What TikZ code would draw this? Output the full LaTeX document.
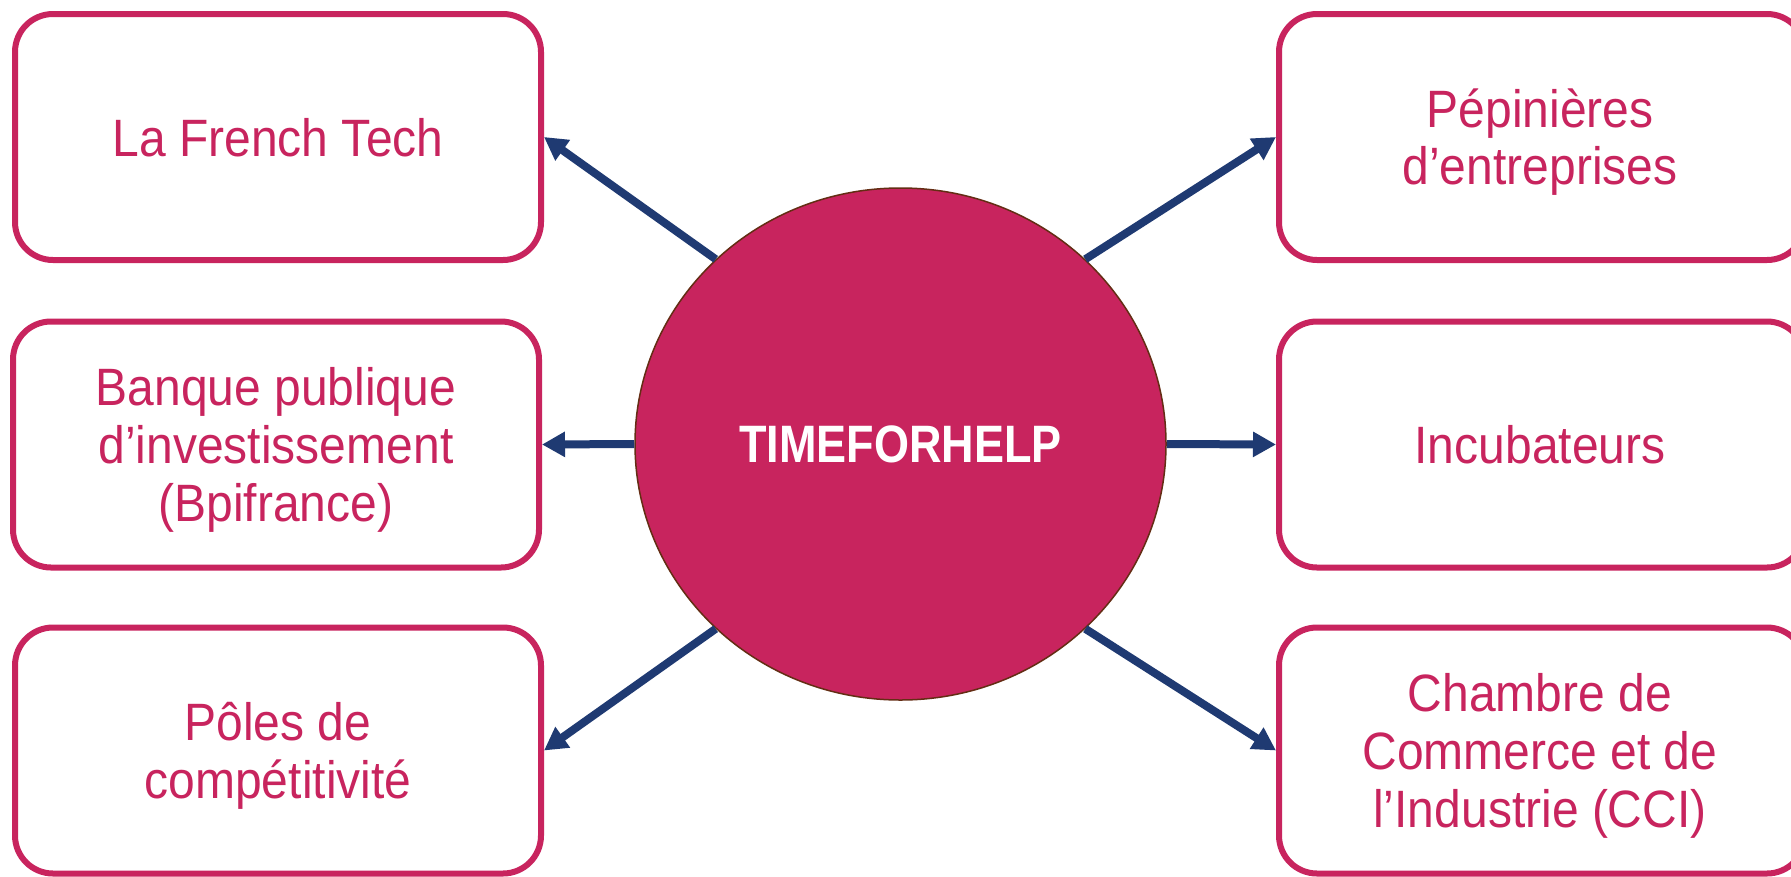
\documentclass[tikz,border=0pt]{standalone}
\usepackage{fontspec}
\setmainfont{Liberation Sans}
\usetikzlibrary{shapes.geometric,arrows.meta}
\definecolor{pinkc}{RGB}{200,36,94}
\definecolor{navyc}{RGB}{31,58,114}
\definecolor{brownc}{RGB}{100,45,20}
\newcommand{\lbl}[1]{\scalebox{1}[1.095]{\fontsize{48}{52.7}\selectfont\begin{tabular}{@{}c@{}}#1\end{tabular}}}
\tikzset{
  orgbox/.style={draw=pinkc, line width=6pt, rounded corners=38pt, fill=white,
    minimum width=526pt, minimum height=246pt, inner sep=0pt},
  orgtext/.style={text=pinkc, inner sep=0pt, yshift=-7.5pt},
  link/.style={navyc, line width=8pt, -{Triangle[length=23pt,width=24pt]}},
}
\begin{document}
\begin{tikzpicture}[x=1pt,y=-1pt]
\useasboundingbox (0,0) rectangle (1791,876);
\clip (0,0) rectangle (1791,876);
\fill[white] (0,0) rectangle (1791,876);
\node[orgbox] (tl) at (278,137) {};
\node[orgbox] (ml) at (276,444.5) {};
\node[orgbox] (bl) at (278,750.5) {};
\node[orgbox] (tr) at (1542,137) {};
\node[orgbox] (mr) at (1542,444.5) {};
\node[orgbox] (br) at (1542,750.5) {};
\node[orgtext] (tlt) at (tl.center) {\lbl{La French Tech}};
\node[orgtext] (mlt) at (ml.center) {\lbl{Banque publique\\d’investissement\\(Bpifrance)}};
\node[orgtext] (blt) at (bl.center) {\lbl{Pôles de\\compétitivité}};
\node[orgtext] (trt) at ([xshift=-2pt]tr.center) {\lbl{Pépinières\\d’entreprises}};
\node[orgtext] (mrt) at ([xshift=-2pt]mr.center) {\lbl{Incubateurs}};
\node[orgtext] (brt) at ([xshift=-2pt]br.center) {\lbl{Chambre de\\Commerce et de\\l’Industrie (CCI)}};
\node[ellipse, draw=brownc, line width=1.5pt, fill=pinkc, minimum width=531pt, minimum height=512pt, inner sep=0pt, text=white] (c) at (900.5,444) {\scalebox{1}[1.17]{\fontsize{45}{50}\selectfont\bfseries TIMEFORHELP}};
\draw[link] (c.135) -- (tl.east);
\draw[link] (c.180) -- (ml.east);
\draw[link] (c.225) -- (bl.east);
\draw[link] (c.45) -- (tr.west);
\draw[link] (c.0) -- (mr.west);
\draw[link] (c.-45) -- (br.west);
\end{tikzpicture}
\end{document}
